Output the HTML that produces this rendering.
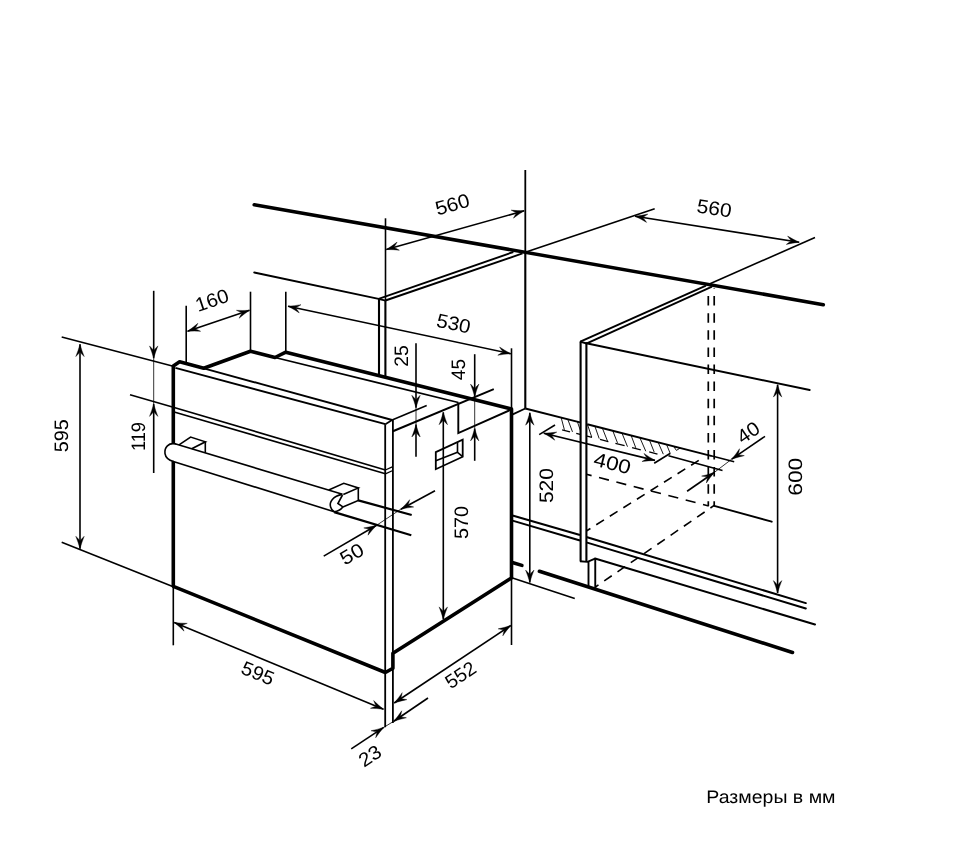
<!DOCTYPE html>
<html lang="ru"><head><meta charset="utf-8"><title>Размеры в мм</title>
<style>
html,body{margin:0;padding:0;background:#fff;}
body{width:960px;height:847px;overflow:hidden;position:relative;font-family:"Liberation Sans",sans-serif;}
svg{display:block;position:absolute;left:0;top:0;will-change:transform;}
svg line, svg path{stroke:#000;}
svg text{text-rendering:geometricPrecision;font-family:"Liberation Sans",sans-serif;fill:#000;}
</style></head><body>
<svg width="960" height="847" viewBox="0 0 960 847" fill="none">
<line x1="561.25" y1="417.96" x2="564.40" y2="429.80" stroke-width="0.9"/>
<line x1="567.90" y1="419.65" x2="572.50" y2="431.90" stroke-width="0.9"/>
<line x1="577.50" y1="422.10" x2="581.50" y2="433.60" stroke-width="0.9"/>
<line x1="587.50" y1="424.64" x2="591.70" y2="437.00" stroke-width="0.9"/>
<line x1="595.00" y1="426.55" x2="599.20" y2="438.60" stroke-width="0.9"/>
<line x1="602.50" y1="428.46" x2="607.90" y2="442.10" stroke-width="0.9"/>
<line x1="612.90" y1="431.11" x2="617.50" y2="442.90" stroke-width="0.9"/>
<line x1="622.10" y1="433.45" x2="627.50" y2="446.70" stroke-width="0.9"/>
<line x1="631.25" y1="435.79" x2="635.80" y2="447.90" stroke-width="0.9"/>
<line x1="640.00" y1="438.01" x2="645.80" y2="451.25" stroke-width="0.9"/>
<line x1="649.60" y1="440.46" x2="654.20" y2="452.10" stroke-width="0.9"/>
<line x1="658.30" y1="442.68" x2="663.30" y2="454.20" stroke-width="0.9"/>
<line x1="666.70" y1="444.81" x2="670.00" y2="452.90" stroke-width="0.9"/>
<line x1="562.10" y1="429.77" x2="570.00" y2="431.79" stroke-width="1.3"/>
<line x1="576.25" y1="433.38" x2="592.00" y2="437.39" stroke-width="1.3"/>
<line x1="600.00" y1="439.43" x2="608.30" y2="441.54" stroke-width="1.3"/>
<line x1="615.40" y1="443.35" x2="624.60" y2="445.69" stroke-width="1.3"/>
<line x1="632.10" y1="447.60" x2="640.80" y2="449.82" stroke-width="1.3"/>
<line x1="649.20" y1="451.96" x2="657.50" y2="454.07" stroke-width="1.3"/>
<path d="M673.75,446.60 L680.00,448.20 L676.40,450.40 Z" stroke-width="0.9" stroke-linecap="butt" stroke-linejoin="miter" fill="none"/>
<rect x="580.6" y="343" width="5.8" height="218.5" fill="#fff" stroke="none"/>
<line x1="254.20" y1="204.70" x2="823.30" y2="304.70" stroke-width="3.6" stroke-linecap="round"/>
<line x1="254.20" y1="272.50" x2="378.60" y2="298.90" stroke-width="1.9" stroke-linecap="round"/>
<line x1="379.00" y1="298.60" x2="379.00" y2="375.60" stroke-width="2.1"/>
<line x1="385.40" y1="300.20" x2="385.40" y2="377.20" stroke-width="2.1"/>
<line x1="378.40" y1="298.80" x2="385.60" y2="300.60" stroke-width="1.9"/>
<line x1="385.50" y1="218.30" x2="385.50" y2="300.00" stroke-width="1.6"/>
<line x1="378.60" y1="298.90" x2="513.30" y2="252.00" stroke-width="1.9"/>
<line x1="385.40" y1="300.50" x2="522.50" y2="253.40" stroke-width="1.9"/>
<line x1="525.30" y1="170.00" x2="525.30" y2="252.00" stroke-width="1.8"/>
<line x1="525.30" y1="252.00" x2="525.30" y2="408.60" stroke-width="2.1"/>
<line x1="525.30" y1="252.20" x2="654.70" y2="208.70" stroke-width="1.6"/>
<line x1="710.00" y1="283.70" x2="815.00" y2="237.50" stroke-width="1.6"/>
<line x1="580.30" y1="341.70" x2="706.00" y2="285.60" stroke-width="1.9"/>
<line x1="586.30" y1="343.60" x2="712.00" y2="286.70" stroke-width="1.9"/>
<line x1="580.00" y1="341.60" x2="586.80" y2="343.50" stroke-width="1.9"/>
<line x1="580.60" y1="341.40" x2="580.60" y2="561.50" stroke-width="2.1"/>
<line x1="586.40" y1="343.30" x2="586.40" y2="561.80" stroke-width="2.1"/>
<line x1="586.30" y1="343.30" x2="809.70" y2="390.00" stroke-width="1.9" stroke-linecap="round"/>
<line x1="708.30" y1="288.00" x2="708.30" y2="506.00" stroke-width="1.7" stroke-dasharray="9.5 7.6" stroke-dashoffset="9.00"/>
<line x1="714.20" y1="288.00" x2="714.20" y2="506.00" stroke-width="1.7" stroke-dasharray="9.5 7.6" stroke-dashoffset="9.00"/>
<line x1="525.30" y1="408.50" x2="512.20" y2="414.60" stroke-width="1.9"/>
<line x1="525.30" y1="408.50" x2="580.00" y2="422.43" stroke-width="1.9"/>
<line x1="587.20" y1="424.27" x2="712.00" y2="456.05" stroke-width="1.9"/>
<line x1="712.00" y1="456.05" x2="734.20" y2="461.70" stroke-width="1.6"/>
<line x1="668.50" y1="455.80" x2="722.50" y2="470.60" stroke-width="1.6"/>
<line x1="586.40" y1="474.30" x2="708.75" y2="506.00" stroke-width="1.6" stroke-dasharray="10.2 7.7" stroke-dashoffset="4.85"/>
<line x1="586.70" y1="530.80" x2="698.75" y2="460.40" stroke-width="1.6" stroke-dasharray="9.1 6.9" stroke-dashoffset="4.70"/>
<line x1="714.20" y1="505.40" x2="595.40" y2="587.00" stroke-width="1.6" stroke-dasharray="9.1 7.0" stroke-dashoffset="4.50"/>
<line x1="714.20" y1="505.80" x2="771.70" y2="521.70" stroke-width="1.9" stroke-linecap="round"/>
<line x1="512.50" y1="515.55" x2="580.00" y2="535.08" stroke-width="2.0"/>
<line x1="587.20" y1="537.25" x2="805.80" y2="603.09" stroke-width="2.0" stroke-linecap="round"/>
<line x1="512.50" y1="520.65" x2="580.00" y2="540.48" stroke-width="2.0"/>
<line x1="587.20" y1="542.65" x2="805.80" y2="608.49" stroke-width="2.0" stroke-linecap="round"/>
<line x1="595.00" y1="558.50" x2="815.00" y2="624.50" stroke-width="2.0" stroke-linecap="round"/>
<line x1="513.10" y1="562.75" x2="521.90" y2="565.40" stroke-width="3.6" stroke-linecap="round"/>
<line x1="539.40" y1="571.25" x2="792.50" y2="652.50" stroke-width="3.6" stroke-linecap="round"/>
<path d="M580.00,561.30 L587.60,561.90 L595.00,558.60" stroke-width="1.9" stroke-linecap="butt" stroke-linejoin="miter" fill="none"/>
<line x1="588.50" y1="561.50" x2="588.50" y2="587.20" stroke-width="1.9"/>
<line x1="595.25" y1="559.00" x2="595.25" y2="589.00" stroke-width="1.9"/>
<line x1="512.50" y1="578.10" x2="574.75" y2="598.50" stroke-width="1.6"/>
<path d="M385.40,672.50 L173.30,586.30 L173.30,366.00 L179.60,361.80 L203.75,368.30 L250.50,351.30 L275.00,357.50 L285.80,352.20 L511.50,409.00 L511.50,578.00 L392.90,653.30 L392.90,668.30 L385.40,672.50" stroke-width="3.6" stroke-linecap="butt" stroke-linejoin="round" fill="none"/>
<line x1="203.75" y1="368.30" x2="392.10" y2="420.00" stroke-width="1.9"/>
<line x1="175.40" y1="367.90" x2="385.40" y2="424.20" stroke-width="1.9"/>
<line x1="385.40" y1="424.20" x2="392.10" y2="420.00" stroke-width="1.6"/>
<line x1="385.20" y1="424.20" x2="385.20" y2="727.30" stroke-width="1.8"/>
<line x1="392.90" y1="420.00" x2="392.90" y2="723.00" stroke-width="1.8"/>
<line x1="275.00" y1="357.50" x2="458.30" y2="402.50" stroke-width="1.8"/>
<line x1="392.10" y1="420.00" x2="426.70" y2="405.60" stroke-width="1.6"/>
<line x1="392.90" y1="431.25" x2="493.80" y2="389.20" stroke-width="1.9"/>
<path d="M458.30,402.50 L458.30,433.00 L511.50,409.50" stroke-width="1.9" stroke-linecap="butt" stroke-linejoin="miter" fill="none"/>
<line x1="130.00" y1="394.70" x2="173.30" y2="407.20" stroke-width="1.6"/>
<line x1="173.30" y1="407.20" x2="385.40" y2="470.00" stroke-width="1.7"/>
<line x1="173.30" y1="411.70" x2="385.40" y2="473.80" stroke-width="1.7"/>
<line x1="385.40" y1="470.00" x2="392.80" y2="466.70" stroke-width="1.3"/>
<line x1="385.40" y1="473.80" x2="392.80" y2="470.50" stroke-width="1.3"/>
<path d="M176,444.05 C168,442 163.5,448 165,454 C166,459 169,460.5 173.5,461.6 L190,466.7 L190,448.3 Z" fill="#fff" style="stroke:none"/>
<path d="M175,443.75 L342.5,494.2" stroke-width="1.6" fill="none" />
<path d="M172.5,461.25 L334.2,511.7" stroke-width="1.6" fill="none" />
<path d="M176.0,444.05 C168.5,442.2 164.2,447.5 165,453.6 C165.8,458.6 169,460.3 173.5,461.55" stroke-width="1.6" fill="none" />
<path d="M179.00,444.90 L190.60,437.10 L205.40,441.80 L191.70,448.70" stroke-width="1.6" stroke-linecap="butt" stroke-linejoin="miter" fill="none"/>
<line x1="205.30" y1="441.40" x2="205.30" y2="452.80" stroke-width="1.6"/>
<path d="M328.75,490.00 L343.75,483.30 L358.30,487.90 L343.30,494.60" stroke-width="1.6" stroke-linecap="butt" stroke-linejoin="miter" fill="none"/>
<path d="M358.30,487.50 L358.30,500.40 L342.90,507.10" stroke-width="1.6" stroke-linecap="butt" stroke-linejoin="miter" fill="none"/>
<path d="M342.2,494.4 C333,496 329,502 330.6,507 C331.5,510 332.8,511 334.2,511.7 C338,511.5 341,509.5 342.9,507.1" stroke-width="1.6" fill="none" />
<path d="M342.5,495 L337.9,503.5 L342.9,506.9" stroke-width="1.6" fill="none" />
<line x1="358.30" y1="500.40" x2="411.70" y2="515.00" stroke-width="2.2"/>
<line x1="334.20" y1="512.10" x2="411.30" y2="535.30" stroke-width="2.2"/>
<path d="M435.80,452.10 L462.70,439.60 L462.70,456.70 L435.80,469.20 Z" stroke-width="1.8" stroke-linecap="butt" stroke-linejoin="miter" fill="none"/>
<path d="M457.50,442.20 L457.50,452.30 L462.70,456.70" stroke-width="1.6" stroke-linecap="butt" stroke-linejoin="miter" fill="none"/>
<line x1="435.80" y1="460.80" x2="457.50" y2="452.30" stroke-width="1.6"/>
<line x1="61.70" y1="337.00" x2="173.30" y2="366.30" stroke-width="1.6"/>
<line x1="61.70" y1="542.20" x2="173.30" y2="586.70" stroke-width="1.6"/>
<line x1="80.00" y1="344.20" x2="80.00" y2="548.70" stroke-width="1.6"/>
<path d="M80.00,344.20 Q81.93,351.02 84.20,356.60 Q81.40,354.00 80.00,351.80 Q78.60,354.00 75.80,356.60 Q78.07,351.02 80.00,344.20 Z" fill="#000" stroke="#000" stroke-width="0.4" stroke-linejoin="round"/>
<path d="M80.00,548.70 Q78.07,541.88 75.80,536.30 Q78.60,538.90 80.00,541.10 Q81.40,538.90 84.20,536.30 Q81.93,541.88 80.00,548.70 Z" fill="#000" stroke="#000" stroke-width="0.4" stroke-linejoin="round"/>
<text x="62.50" y="435.80" transform="rotate(-90.00 62.50 435.80)" font-size="19.5" text-anchor="middle" dominant-baseline="central" textLength="33" lengthAdjust="spacingAndGlyphs">595</text>
<line x1="153.70" y1="290.80" x2="153.70" y2="358.30" stroke-width="1.6"/>
<path d="M153.70,358.30 Q151.77,351.48 149.50,345.90 Q152.30,348.50 153.70,350.70 Q155.10,348.50 157.90,345.90 Q155.63,351.48 153.70,358.30 Z" fill="#000" stroke="#000" stroke-width="0.4" stroke-linejoin="round"/>
<line x1="153.70" y1="358.30" x2="153.70" y2="404.00" stroke-width="0.8"/>
<line x1="153.70" y1="473.00" x2="153.70" y2="404.00" stroke-width="1.6"/>
<path d="M153.70,404.00 Q155.63,410.82 157.90,416.40 Q155.10,413.80 153.70,411.60 Q152.30,413.80 149.50,416.40 Q151.77,410.82 153.70,404.00 Z" fill="#000" stroke="#000" stroke-width="0.4" stroke-linejoin="round"/>
<text x="138.80" y="436.60" transform="rotate(-90.00 138.80 436.60)" font-size="19.5" text-anchor="middle" dominant-baseline="central" textLength="29" lengthAdjust="spacingAndGlyphs">119</text>
<line x1="186.20" y1="305.80" x2="186.20" y2="362.50" stroke-width="1.6"/>
<line x1="250.50" y1="291.70" x2="250.50" y2="351.00" stroke-width="1.6"/>
<line x1="187.50" y1="331.30" x2="249.50" y2="310.30" stroke-width="1.6"/>
<path d="M187.50,331.30 Q193.34,327.28 197.90,323.34 Q196.33,326.83 194.70,328.86 Q197.23,329.48 200.59,331.30 Q194.58,330.94 187.50,331.30 Z" fill="#000" stroke="#000" stroke-width="0.4" stroke-linejoin="round"/>
<path d="M249.50,310.30 Q243.66,314.32 239.10,318.26 Q240.67,314.77 242.30,312.74 Q239.77,312.12 236.41,310.30 Q242.42,310.66 249.50,310.30 Z" fill="#000" stroke="#000" stroke-width="0.4" stroke-linejoin="round"/>
<text x="212.30" y="300.90" transform="rotate(-18.70 212.30 300.90)" font-size="19.5" text-anchor="middle" dominant-baseline="central" textLength="34" lengthAdjust="spacingAndGlyphs">160</text>
<line x1="285.80" y1="291.70" x2="285.80" y2="352.00" stroke-width="1.6"/>
<line x1="511.50" y1="348.30" x2="511.50" y2="408.30" stroke-width="1.6"/>
<line x1="288.00" y1="306.20" x2="510.80" y2="353.70" stroke-width="1.6"/>
<path d="M288.00,306.20 Q295.07,305.73 301.00,304.68 Q297.88,306.87 295.43,307.78 Q297.29,309.61 299.25,312.89 Q294.27,309.51 288.00,306.20 Z" fill="#000" stroke="#000" stroke-width="0.4" stroke-linejoin="round"/>
<path d="M510.80,353.70 Q503.73,354.17 497.80,355.22 Q500.92,353.03 503.37,352.12 Q501.51,350.29 499.55,347.01 Q504.53,350.39 510.80,353.70 Z" fill="#000" stroke="#000" stroke-width="0.4" stroke-linejoin="round"/>
<text x="453.50" y="324.10" transform="rotate(12.04 453.50 324.10)" font-size="19.5" text-anchor="middle" dominant-baseline="central" textLength="34.3" lengthAdjust="spacingAndGlyphs">530</text>
<line x1="386.30" y1="249.50" x2="524.20" y2="210.80" stroke-width="1.6"/>
<path d="M386.30,249.50 Q392.34,245.80 397.10,242.11 Q395.36,245.50 393.62,247.45 Q396.11,248.20 399.37,250.19 Q393.39,249.52 386.30,249.50 Z" fill="#000" stroke="#000" stroke-width="0.4" stroke-linejoin="round"/>
<path d="M524.20,210.80 Q518.16,214.50 513.40,218.19 Q515.14,214.80 516.88,212.85 Q514.39,212.10 511.13,210.11 Q517.11,210.78 524.20,210.80 Z" fill="#000" stroke="#000" stroke-width="0.4" stroke-linejoin="round"/>
<text x="452.60" y="205.10" transform="rotate(-15.70 452.60 205.10)" font-size="19.5" text-anchor="middle" dominant-baseline="central" textLength="34.8" lengthAdjust="spacingAndGlyphs">560</text>
<line x1="635.00" y1="216.30" x2="799.20" y2="242.20" stroke-width="1.6"/>
<path d="M635.00,216.30 Q642.04,215.45 647.90,214.08 Q644.90,216.44 642.51,217.48 Q644.46,219.21 646.59,222.38 Q641.44,219.27 635.00,216.30 Z" fill="#000" stroke="#000" stroke-width="0.4" stroke-linejoin="round"/>
<path d="M799.20,242.20 Q792.16,243.05 786.30,244.42 Q789.30,242.06 791.69,241.02 Q789.74,239.29 787.61,236.12 Q792.76,239.23 799.20,242.20 Z" fill="#000" stroke="#000" stroke-width="0.4" stroke-linejoin="round"/>
<text x="714.30" y="209.00" transform="rotate(8.96 714.30 209.00)" font-size="19.5" text-anchor="middle" dominant-baseline="central" textLength="35" lengthAdjust="spacingAndGlyphs">560</text>
<line x1="416.00" y1="343.30" x2="416.00" y2="407.70" stroke-width="1.6"/>
<path d="M416.00,407.70 Q414.07,400.88 411.80,395.30 Q414.60,397.90 416.00,400.10 Q417.40,397.90 420.20,395.30 Q417.93,400.88 416.00,407.70 Z" fill="#000" stroke="#000" stroke-width="0.4" stroke-linejoin="round"/>
<line x1="416.00" y1="407.70" x2="416.00" y2="424.60" stroke-width="0.8"/>
<line x1="416.00" y1="456.70" x2="416.00" y2="424.60" stroke-width="1.6"/>
<path d="M416.00,424.60 Q417.93,431.42 420.20,437.00 Q417.40,434.40 416.00,432.20 Q414.60,434.40 411.80,437.00 Q414.07,431.42 416.00,424.60 Z" fill="#000" stroke="#000" stroke-width="0.4" stroke-linejoin="round"/>
<text x="401.50" y="356.00" transform="rotate(-90.00 401.50 356.00)" font-size="19.5" text-anchor="middle" dominant-baseline="central" textLength="21.5" lengthAdjust="spacingAndGlyphs">25</text>
<line x1="474.70" y1="354.20" x2="474.70" y2="396.50" stroke-width="1.6"/>
<path d="M474.70,396.50 Q472.77,389.68 470.50,384.10 Q473.30,386.70 474.70,388.90 Q476.10,386.70 478.90,384.10 Q476.63,389.68 474.70,396.50 Z" fill="#000" stroke="#000" stroke-width="0.4" stroke-linejoin="round"/>
<line x1="474.70" y1="396.50" x2="474.70" y2="428.50" stroke-width="0.8"/>
<line x1="474.70" y1="460.80" x2="474.70" y2="428.50" stroke-width="1.6"/>
<path d="M474.70,428.50 Q476.63,435.32 478.90,440.90 Q476.10,438.30 474.70,436.10 Q473.30,438.30 470.50,440.90 Q472.77,435.32 474.70,428.50 Z" fill="#000" stroke="#000" stroke-width="0.4" stroke-linejoin="round"/>
<text x="459.40" y="369.60" transform="rotate(-90.00 459.40 369.60)" font-size="19.5" text-anchor="middle" dominant-baseline="central" textLength="21.3" lengthAdjust="spacingAndGlyphs">45</text>
<line x1="443.30" y1="412.30" x2="443.30" y2="619.30" stroke-width="1.6"/>
<path d="M443.30,412.30 Q445.23,419.12 447.50,424.70 Q444.70,422.10 443.30,419.90 Q441.90,422.10 439.10,424.70 Q441.37,419.12 443.30,412.30 Z" fill="#000" stroke="#000" stroke-width="0.4" stroke-linejoin="round"/>
<path d="M443.30,619.30 Q441.37,612.48 439.10,606.90 Q441.90,609.50 443.30,611.70 Q444.70,609.50 447.50,606.90 Q445.23,612.48 443.30,619.30 Z" fill="#000" stroke="#000" stroke-width="0.4" stroke-linejoin="round"/>
<text x="461.90" y="522.50" transform="rotate(-90.00 461.90 522.50)" font-size="19.5" text-anchor="middle" dominant-baseline="central" textLength="33" lengthAdjust="spacingAndGlyphs">570</text>
<line x1="529.80" y1="412.80" x2="529.80" y2="582.50" stroke-width="1.6"/>
<path d="M529.80,412.80 Q531.73,419.62 534.00,425.20 Q531.20,422.60 529.80,420.40 Q528.40,422.60 525.60,425.20 Q527.87,419.62 529.80,412.80 Z" fill="#000" stroke="#000" stroke-width="0.4" stroke-linejoin="round"/>
<path d="M529.80,582.50 Q527.87,575.68 525.60,570.10 Q528.40,572.70 529.80,574.90 Q531.20,572.70 534.00,570.10 Q531.73,575.68 529.80,582.50 Z" fill="#000" stroke="#000" stroke-width="0.4" stroke-linejoin="round"/>
<text x="547.10" y="485.60" transform="rotate(-90.00 547.10 485.60)" font-size="19.5" text-anchor="middle" dominant-baseline="central" textLength="35" lengthAdjust="spacingAndGlyphs">520</text>
<line x1="777.60" y1="384.70" x2="777.60" y2="593.00" stroke-width="1.6"/>
<path d="M777.60,384.70 Q779.53,391.52 781.80,397.10 Q779.00,394.50 777.60,392.30 Q776.20,394.50 773.40,397.10 Q775.67,391.52 777.60,384.70 Z" fill="#000" stroke="#000" stroke-width="0.4" stroke-linejoin="round"/>
<path d="M777.60,593.00 Q775.67,586.18 773.40,580.60 Q776.20,583.20 777.60,585.40 Q779.00,583.20 781.80,580.60 Q779.53,586.18 777.60,593.00 Z" fill="#000" stroke="#000" stroke-width="0.4" stroke-linejoin="round"/>
<text x="796.10" y="476.70" transform="rotate(-90.00 796.10 476.70)" font-size="19.5" text-anchor="middle" dominant-baseline="central" textLength="38" lengthAdjust="spacingAndGlyphs">600</text>
<line x1="435.00" y1="490.80" x2="400.80" y2="509.20" stroke-width="1.6"/>
<path d="M400.80,509.20 Q405.89,504.27 409.73,499.63 Q408.77,503.32 407.49,505.60 Q410.09,505.79 413.71,507.02 Q407.72,507.67 400.80,509.20 Z" fill="#000" stroke="#000" stroke-width="0.4" stroke-linejoin="round"/>
<line x1="400.80" y1="509.20" x2="376.60" y2="525.30" stroke-width="0.8"/>
<line x1="323.70" y1="556.10" x2="376.60" y2="525.30" stroke-width="1.6"/>
<path d="M376.60,525.30 Q371.68,530.40 368.00,535.17 Q368.84,531.44 370.03,529.12 Q367.43,529.02 363.77,527.91 Q369.73,527.06 376.60,525.30 Z" fill="#000" stroke="#000" stroke-width="0.4" stroke-linejoin="round"/>
<text x="352.20" y="554.50" transform="rotate(-30.00 352.20 554.50)" font-size="19.5" text-anchor="middle" dominant-baseline="central" textLength="24" lengthAdjust="spacingAndGlyphs">50</text>
<line x1="173.30" y1="586.00" x2="173.30" y2="645.30" stroke-width="1.6"/>
<line x1="174.20" y1="622.50" x2="383.50" y2="709.20" stroke-width="1.6"/>
<path d="M174.20,622.50 Q181.24,623.33 187.26,623.37 Q183.79,624.96 181.22,625.41 Q182.72,627.54 184.05,631.13 Q179.76,626.89 174.20,622.50 Z" fill="#000" stroke="#000" stroke-width="0.4" stroke-linejoin="round"/>
<path d="M383.50,709.20 Q376.46,708.37 370.44,708.33 Q373.91,706.74 376.48,706.29 Q374.98,704.16 373.65,700.57 Q377.94,704.81 383.50,709.20 Z" fill="#000" stroke="#000" stroke-width="0.4" stroke-linejoin="round"/>
<text x="257.60" y="673.80" transform="rotate(22.50 257.60 673.80)" font-size="19.5" text-anchor="middle" dominant-baseline="central" textLength="33.5" lengthAdjust="spacingAndGlyphs">595</text>
<line x1="511.50" y1="578.00" x2="511.50" y2="645.00" stroke-width="1.6"/>
<line x1="394.20" y1="703.00" x2="510.80" y2="625.50" stroke-width="1.6"/>
<path d="M394.20,703.00 Q398.81,697.62 402.20,692.64 Q401.59,696.41 400.53,698.79 Q403.14,698.74 406.85,699.63 Q400.95,700.83 394.20,703.00 Z" fill="#000" stroke="#000" stroke-width="0.4" stroke-linejoin="round"/>
<path d="M510.80,625.50 Q506.19,630.88 502.80,635.86 Q503.41,632.09 504.47,629.71 Q501.86,629.76 498.15,628.87 Q504.05,627.67 510.80,625.50 Z" fill="#000" stroke="#000" stroke-width="0.4" stroke-linejoin="round"/>
<text x="460.90" y="675.40" transform="rotate(-33.60 460.90 675.40)" font-size="19.5" text-anchor="middle" dominant-baseline="central" textLength="32.5" lengthAdjust="spacingAndGlyphs">552</text>
<line x1="428.00" y1="698.00" x2="393.80" y2="721.25" stroke-width="1.6"/>
<path d="M393.80,721.25 Q398.35,715.82 401.69,710.81 Q401.12,714.58 400.09,716.98 Q402.69,716.90 406.42,717.75 Q400.53,719.01 393.80,721.25 Z" fill="#000" stroke="#000" stroke-width="0.4" stroke-linejoin="round"/>
<line x1="393.80" y1="721.25" x2="383.70" y2="727.40" stroke-width="0.8"/>
<line x1="351.25" y1="748.90" x2="383.70" y2="727.40" stroke-width="1.6"/>
<path d="M383.70,727.40 Q379.08,732.78 375.68,737.75 Q376.30,733.98 377.36,731.60 Q374.76,731.65 371.04,730.75 Q376.95,729.56 383.70,727.40 Z" fill="#000" stroke="#000" stroke-width="0.4" stroke-linejoin="round"/>
<text x="370.30" y="756.40" transform="rotate(-33.00 370.30 756.40)" font-size="19.5" text-anchor="middle" dominant-baseline="central" textLength="23" lengthAdjust="spacingAndGlyphs">23</text>
<line x1="539.20" y1="434.60" x2="555.00" y2="425.00" stroke-width="1.6"/>
<line x1="654.20" y1="463.30" x2="670.40" y2="453.30" stroke-width="1.6"/>
<line x1="543.75" y1="433.20" x2="655.00" y2="460.40" stroke-width="1.6"/>
<path d="M543.75,433.20 Q550.83,432.94 556.79,432.07 Q553.60,434.17 551.13,435.00 Q552.94,436.89 554.80,440.22 Q549.92,436.70 543.75,433.20 Z" fill="#000" stroke="#000" stroke-width="0.4" stroke-linejoin="round"/>
<path d="M655.00,460.40 Q647.92,460.66 641.96,461.53 Q645.15,459.43 647.62,458.60 Q645.81,456.71 643.95,453.38 Q648.83,456.90 655.00,460.40 Z" fill="#000" stroke="#000" stroke-width="0.4" stroke-linejoin="round"/>
<text x="612.20" y="464.00" transform="rotate(14.00 612.20 464.00)" font-size="19.5" text-anchor="middle" dominant-baseline="central" textLength="37.7" lengthAdjust="spacingAndGlyphs">400</text>
<line x1="765.00" y1="436.30" x2="731.70" y2="459.20" stroke-width="1.6"/>
<path d="M731.70,459.20 Q736.22,453.74 739.54,448.71 Q738.98,452.49 737.96,454.89 Q740.57,454.80 744.30,455.63 Q738.41,456.93 731.70,459.20 Z" fill="#000" stroke="#000" stroke-width="0.4" stroke-linejoin="round"/>
<line x1="731.70" y1="459.20" x2="714.20" y2="472.50" stroke-width="0.8"/>
<line x1="687.10" y1="491.25" x2="714.20" y2="472.50" stroke-width="1.6"/>
<path d="M714.20,472.50 Q709.69,477.97 706.39,483.01 Q706.94,479.23 707.95,476.82 Q705.34,476.92 701.61,476.10 Q707.49,474.79 714.20,472.50 Z" fill="#000" stroke="#000" stroke-width="0.4" stroke-linejoin="round"/>
<text x="748.60" y="433.00" transform="rotate(-34.00 748.60 433.00)" font-size="19.5" text-anchor="middle" dominant-baseline="central" textLength="23" lengthAdjust="spacingAndGlyphs">40</text>
<text x="706.3" y="803.2" font-size="18" textLength="129.2" lengthAdjust="spacingAndGlyphs" fill="#111">Размеры в мм</text>
</svg>
</body></html>
